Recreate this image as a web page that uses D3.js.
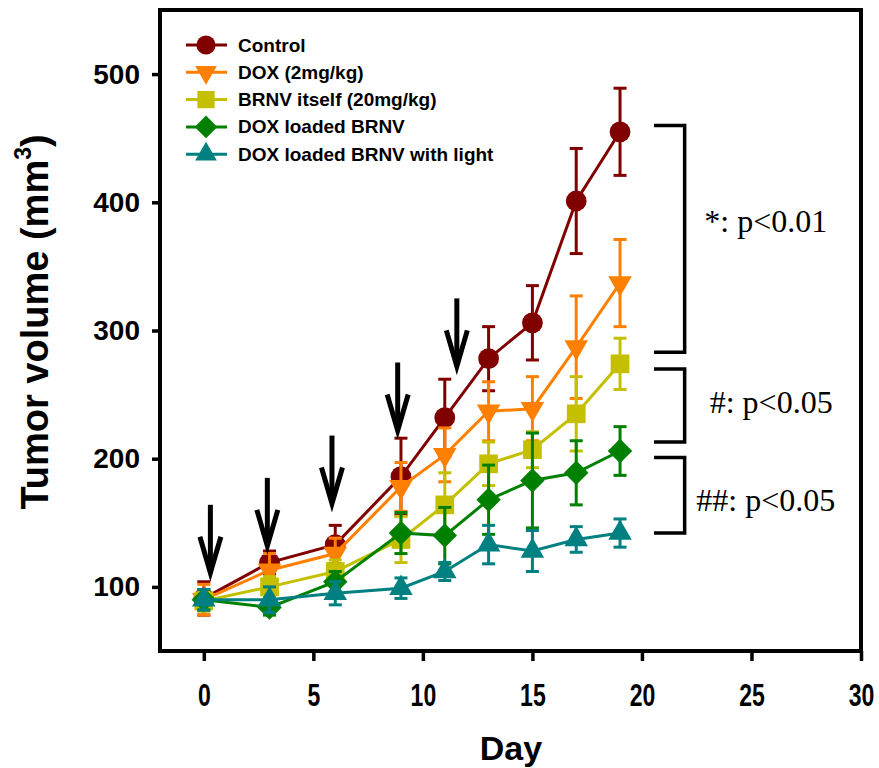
<head>
  <title>Tumor volume</title>
  <script src="https://d3js.org/d3.v7.min.js"></script>
  <style>
    body { margin: 0; background: #fff; }
  </style>
</head>

<body>

<svg id="chart" width="879" height="768"></svg>

<script>
    // days of measurement
    var days = [0, 3, 6, 9, 11, 13, 15, 17, 19];

    var seriesNames = ["Control", "DOX (2mg/kg)", "BRNV itself (20mg/kg)",
        "DOX loaded BRNV", "DOX loaded BRNV with light"];

    var control    = [91, 119, 133, 186, 232, 278, 306, 401, 455];
    var controlErr = [13, 9, 15, 30, 30, 25, 29, 41, 34];
    var dox        = [90, 113, 126, 178, 203, 237, 239, 287, 337];
    var doxErr     = [12, 13, 12, 19, 21, 23, 25, 40, 34];
    var brnv       = [89, 100, 112, 137, 164, 196, 207, 235, 274];
    var brnvErr    = [8, 8, 9, 18, 25, 17, 14, 29, 20];
    var doxBrnv    = [90, 84, 104, 142, 140, 168, 183, 189, 206];
    var doxBrnvErr = [8, 6, 8, 16, 22, 27, 37, 25, 19];
    var doxLight   = [90, 90, 95, 99, 112, 133, 128, 137, 142];
    var doxLightErr = [8, 10, 9, 8, 7, 15, 16, 10, 11];

    var xTicks = [0, 5, 10, 15, 20, 25, 30];
    var yTicks = [100, 200, 300, 400, 500];

    // injection arrows: day and value of the arrow tip
    var arrowDays = [0.3, 2.9, 5.85, 8.85, 11.55];
    var arrowTips = [111, 132, 165, 222, 272];

    // significance brackets: top / bottom values and label
    var bracketTop    = [460, 270, 201];
    var bracketBottom = [283, 213, 142];
    var bracketLabels = ["*: p<0.01", "#: p<0.05", "##: p<0.05"];
    var labelValues   = [377, 236, 159];
    var labelDays     = [25.65, 25.9, 25.65];

    var colors = ["#800000", "#ff8000", "#c4c000", "#008000", "#008080"];

    var series = [control, dox, brnv, doxBrnv, doxLight].map(function (vals, k) {
        var errs = [controlErr, doxErr, brnvErr, doxBrnvErr, doxLightErr][k];
        return {
            name: seriesNames[k],
            color: colors[k],
            points: days.map(function (d, i) {
                return {day: d, value: vals[i], err: errs[i]};
            })
        };
    });

    var svg = d3.select("#chart");

    var x = d3.scaleLinear()
        .domain([-2, 30])
        .range([160, 861]);

    var y = d3.scaleLinear()
        .domain([50, 550])
        .range([651, 10]);

    // marker shapes
    var markers = [
        {type: d3.symbolCircle, size: 340, rotate: 0},
        {type: d3.symbolTriangle, size: 240, rotate: 180},
        {type: d3.symbolSquare, size: 350, rotate: 0},
        {type: d3.symbolSquare, size: 300, rotate: 45},
        {type: d3.symbolTriangle, size: 240, rotate: 0}
    ];

    // axes
    var xAxis = svg.append("g")
        .attr("transform", "translate(0,651)")
        .call(d3.axisBottom(x).tickValues(xTicks).tickSize(10).tickSizeOuter(0).tickPadding(22));

    xAxis.select(".domain").remove();
    xAxis.selectAll("line").attr("stroke", "#000").attr("stroke-width", 3.5);
    // the x labels are narrow in the original
    xAxis.selectAll("text")
        .attr("font-family", "Liberation Sans, Arial, sans-serif")
        .attr("font-weight", "bold")
        .attr("font-size", 32)
        .attr("fill", "#000")
        .attr("transform", "scale(0.72,1)");

    var yAxis = svg.append("g")
        .attr("transform", "translate(160,0)")
        .call(d3.axisLeft(y).tickValues(yTicks).tickSize(8).tickSizeOuter(0).tickPadding(12));

    yAxis.select(".domain").remove();
    yAxis.selectAll("line").attr("stroke", "#000").attr("stroke-width", 3.5);
    yAxis.selectAll("text")
        .attr("font-family", "Liberation Sans, Arial, sans-serif")
        .attr("font-weight", "bold")
        .attr("font-size", 28)
        .attr("fill", "#000");

    // frame
    svg.append("rect")
        .attr("x", x(-2))
        .attr("y", y(550))
        .attr("width", x(30) - x(-2))
        .attr("height", y(50) - y(550))
        .attr("fill", "none")
        .attr("stroke", "#000")
        .attr("stroke-width", 4);

    // axis titles
    svg.append("text")
        .attr("x", 511)
        .attr("y", 760)
        .attr("text-anchor", "middle")
        .attr("font-family", "Liberation Sans, Arial, sans-serif")
        .attr("font-weight", "bold")
        .attr("font-size", 34)
        .text("Day");

    var yTitle = svg.append("text")
        .attr("transform", "translate(48,322) rotate(-90)")
        .attr("text-anchor", "middle")
        .attr("font-family", "Liberation Sans, Arial, sans-serif")
        .attr("font-weight", "bold")
        .attr("font-size", 38);
    yTitle.append("tspan").text("Tumor volume (mm");
    yTitle.append("tspan").attr("font-size", 23).attr("dy", -17).text("3");
    yTitle.append("tspan").attr("dy", 17).text(")");

    // data
    var line = d3.line()
        .x(d => x(d.day))
        .y(d => y(d.value));

    series.forEach(function (s, k) {
        var g = svg.append("g");

        g.append("path")
            .datum(s.points)
            .attr("fill", "none")
            .attr("stroke", s.color)
            .attr("stroke-width", 3)
            .attr("d", line);

        var eb = g.selectAll(".err")
            .data(s.points)
            .enter().append("g");

        eb.append("line")
            .attr("x1", d => x(d.day))
            .attr("x2", d => x(d.day))
            .attr("y1", d => y(d.value - d.err))
            .attr("y2", d => y(d.value + d.err))
            .attr("stroke", s.color)
            .attr("stroke-width", 3);

        [1, -1].forEach(function (sign) {
            eb.append("line")
                .attr("x1", d => x(d.day) - 6.5)
                .attr("x2", d => x(d.day) + 6.5)
                .attr("y1", d => y(d.value + sign * d.err))
                .attr("y2", d => y(d.value + sign * d.err))
                .attr("stroke", s.color)
                .attr("stroke-width", 3);
        });

        var m = markers[k];
        g.selectAll(".pt")
            .data(s.points)
            .enter().append("path")
            .attr("d", d3.symbol().type(m.type).size(m.size))
            .attr("transform", d => "translate(" + x(d.day) + "," + y(d.value) + ") rotate(" + m.rotate + ")")
            .attr("fill", s.color);
    });

    // arrows
    var arrowLen = 68;
    arrowDays.forEach(function (d, i) {
        var ax = x(d), ay = y(arrowTips[i]);
        var a = svg.append("g")
            .attr("stroke", "#000")
            .attr("stroke-width", 5)
            .attr("fill", "none");
        a.append("line")
            .attr("x1", ax).attr("x2", ax)
            .attr("y1", ay - arrowLen).attr("y2", ay - 2);
        a.append("path")
            .attr("stroke-linejoin", "miter")
            .attr("d", "M" + (ax - 10.5) + "," + (ay - 36) + "L" + ax + "," + ay + "L" + (ax + 10.5) + "," + (ay - 36));
    });

    // brackets
    bracketTop.forEach(function (t, i) {
        svg.append("path")
            .attr("d", "M" + x(20.55) + "," + y(t) + "H" + x(21.95) + "V" + y(bracketBottom[i]) + "H" + x(20.55))
            .attr("fill", "none")
            .attr("stroke", "#000")
            .attr("stroke-width", 3.5);

        svg.append("text")
            .attr("x", x(labelDays[i]))
            .attr("y", y(labelValues[i]))
            .attr("text-anchor", "middle")
            .attr("font-family", "Liberation Serif, Times New Roman, serif")
            .attr("font-size", 32)
            .text(bracketLabels[i]);
    });

    // legend
    var legend = svg.append("g")
        .attr("transform", "translate(186,45)");

    series.forEach(function (s, k) {
        var row = legend.append("g")
            .attr("transform", "translate(0," + (k * 27.3) + ")");
        row.append("line")
            .attr("x1", 0).attr("x2", 41)
            .attr("stroke", s.color)
            .attr("stroke-width", 3);
        var m = markers[k];
        row.append("path")
            .attr("d", d3.symbol().type(m.type).size(m.size * 0.85))
            .attr("transform", "translate(20,0) rotate(" + m.rotate + ")")
            .attr("fill", s.color);
        row.append("text")
            .attr("x", 52)
            .attr("y", 6.5)
            .attr("font-family", "Liberation Sans, Arial, sans-serif")
            .attr("font-weight", "bold")
            .attr("font-size", 19)
            .text(s.name);
    });

</script>
</body>
